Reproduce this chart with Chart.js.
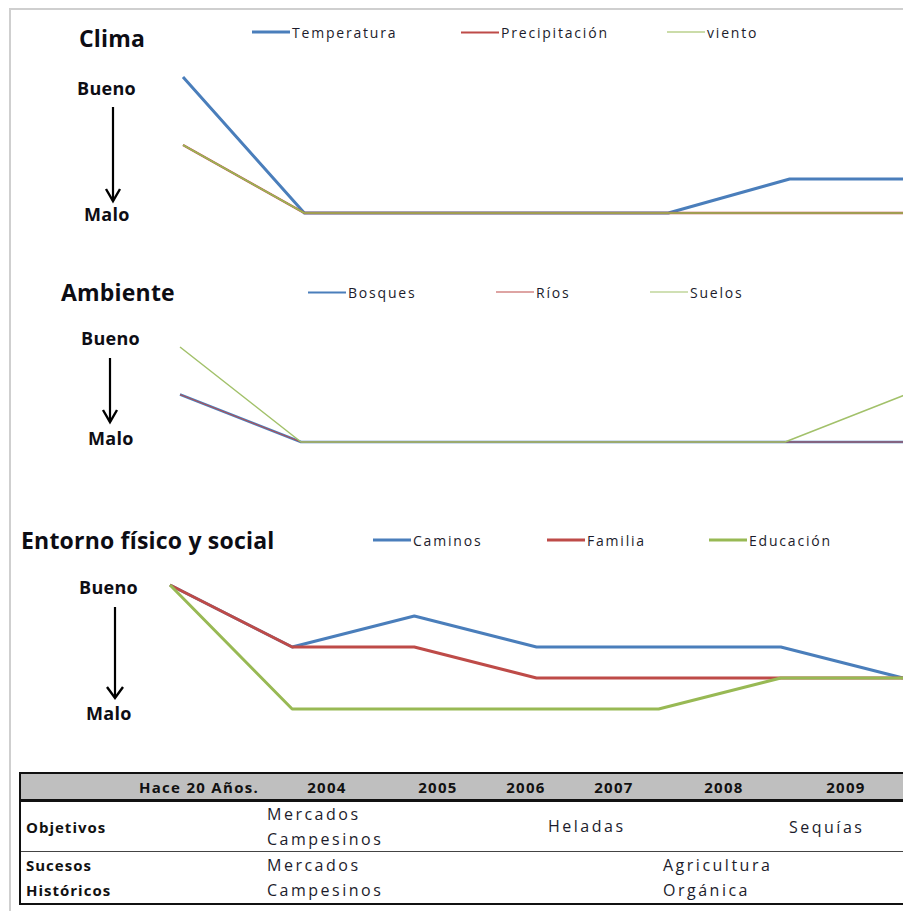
<!DOCTYPE html>
<html lang="es">
<head>
<meta charset="utf-8">
<title>Clima, Ambiente y Entorno</title>
<script src="https://cdn.jsdelivr.net/npm/chart.js@4.4.1/dist/chart.umd.min.js"></script>
<style>
  html, body { margin: 0; padding: 0; background: #fff; }
  body { width: 903px; height: 911px; overflow: hidden; position: relative; font-family: "Open Sans", "Noto Sans", sans-serif; color: #1c1c2c; }
  .frame { position: absolute; left: 9px; top: 8px; width: 1000px; height: 1000px; border-left: 2px solid #cfcfcf; border-top: 2px solid #cfcfcf; }
  .abs { position: absolute; white-space: nowrap; }
  .title { font-weight: 700; font-size: 23px; letter-spacing: 0.2px; color: #0d0d14; transform: translateY(-50%); }
  .side { font-weight: 700; font-size: 18px; letter-spacing: 0.3px; color: #0d0d14; transform: translateY(-50%); }
  .legend { font-size: 14px; letter-spacing: 1.8px; transform: translateY(-50%); display: flex; align-items: center; }
  .legend i { display: inline-block; width: 38px; margin-right: 2px; }
  .chartbox { position: absolute; }
  .table { position: absolute; left: 19px; top: 772px; width: 1000px; height: 129px; border: 2.5px solid #111; border-right: none; }
  .thead { position: absolute; left: 0; top: 0; right: 0; height: 25px; background: #bfbfbf; border-bottom: 3px solid #111; }
  .rowline { position: absolute; left: 0; right: 0; top: 77px; height: 0; border-top: 1.5px solid #444; }
  .th { font-weight: 700; font-size: 15px; letter-spacing: 1.3px; color: #111; transform: translate(-50%, -50%); }
  .rowhead { font-weight: 700; font-size: 15px; letter-spacing: 1px; color: #111; transform: translateY(-50%); }
  .cell { font-size: 16px; letter-spacing: 2.5px; color: #1c1c2c; transform: translateY(-50%); }
</style>
</head>
<body>
<div class="frame"></div>
<div id="stage"></div>
<script>
// Years along the horizontal axis (shared by the three panels and the table header)
const categories = ['Hace 20 Años.', '2004', '2005', '2006', '2007', '2008', '2009'];

// Clima (1 = Malo ... 5 = Bueno)
const climaTemperatura   = [5, 1, 1, 1, 1, 2, 2];
const climaPrecipitacion = [3, 1, 1, 1, 1, 1, 1];
const climaViento        = [3, 1, 1, 1, 1, 1, 1];

// Ambiente (1 = Malo ... 3 = Bueno)
const ambienteBosques = [2, 1, 1, 1, 1, 1, 1];
const ambienteRios    = [2, 1, 1, 1, 1, 1, 1];
const ambienteSuelos  = [3, 1, 1, 1, 1, 1, 2];

// Entorno físico y social (1 = Malo ... 5 = Bueno)
const entornoCaminos   = [5, 3, 4, 3, 3, 3, 2];
const entornoFamilia   = [5, 3, 3, 2, 2, 2, 2];
const entornoEducacion = [5, 1, 1, 1, 1, 2, 2];

// Table rows
const rowTitles = [['Objetivos'], ['Sucesos', 'Históricos']];
const objetivosEntries = [['Mercados', 'Campesinos'], ['Heladas'], ['Sequías']];
const sucesosEntries   = [['Mercados', 'Campesinos'], ['Agricultura', 'Orgánica']];

// ---------- styling / layout ----------
const BLUE = '#4a7ebb', RED = '#be4b48', GREEN = '#98b954';
const PAD = 6;

const panels = [
  {
    title: 'Clima', titlePos: [79, 38],
    bueno: [77, 88], malo: [84, 214], arrow: [113, 107, 201, 189, 7],
    legendY: 32, legendX: [252, 461, 667],
    area: { left: 183, right: 911, top: 77, bottom: 213 }, yMin: 1, yMax: 5,
    series: [
      { label: 'Temperatura',   data: climaTemperatura,   color: BLUE,  width: 3 },
      { label: 'Precipitación', data: climaPrecipitacion, color: RED,   width: 2.5 },
      { label: 'viento',        data: climaViento,        color: GREEN, width: 1.5 }
    ]
  },
  {
    title: 'Ambiente', titlePos: [61, 292],
    bueno: [81, 338], malo: [88, 438], arrow: [110, 358, 422, 410, 7],
    legendY: 292, legendX: [308, 496, 650],
    area: { left: 180, right: 906, top: 347, bottom: 442 }, yMin: 1, yMax: 3,
    series: [
      { label: 'Bosques', data: ambienteBosques, color: BLUE,  width: 2.5 },
      { label: 'Ríos',    data: ambienteRios,    color: RED,   width: 1 },
      { label: 'Suelos',  data: ambienteSuelos,  color: '#a2c16a', width: 1.5 }
    ]
  },
  {
    title: 'Entorno físico y social', titlePos: [21, 540],
    bueno: [79, 587], malo: [86, 713], arrow: [115, 607, 698, 687, 8],
    legendY: 540, legendX: [373, 547, 709],
    area: { left: 170, right: 903, top: 585, bottom: 709 }, yMin: 1, yMax: 5,
    series: [
      { label: 'Caminos',   data: entornoCaminos,   color: BLUE,  width: 3 },
      { label: 'Familia',   data: entornoFamilia,   color: RED,   width: 3 },
      { label: 'Educación', data: entornoEducacion, color: GREEN, width: 3 }
    ]
  }
];

const stage = document.getElementById('stage');

function text(str, x, y, cls) {
  const d = document.createElement('div');
  d.className = 'abs ' + cls;
  d.style.left = x + 'px';
  d.style.top = y + 'px';
  d.textContent = str;
  stage.appendChild(d);
  return d;
}

function arrow(x, y0, y1, wingY, wing) {
  const ns = 'http://www.w3.org/2000/svg';
  const svg = document.createElementNS(ns, 'svg');
  svg.setAttribute('width', 40);
  svg.setAttribute('height', y1 - y0 + 6);
  svg.style.position = 'absolute';
  svg.style.left = (x - 20) + 'px';
  svg.style.top = y0 + 'px';
  const line = document.createElementNS(ns, 'line');
  line.setAttribute('x1', 20); line.setAttribute('x2', 20);
  line.setAttribute('y1', 0); line.setAttribute('y2', y1 - y0);
  line.setAttribute('stroke', '#000'); line.setAttribute('stroke-width', 2.2);
  const head = document.createElementNS(ns, 'polyline');
  const hy = wingY - y0, ty = y1 - y0;
  head.setAttribute('points', `${20 - wing},${hy} 20,${ty} ${20 + wing},${hy}`);
  head.setAttribute('fill', 'none'); head.setAttribute('stroke', '#000');
  head.setAttribute('stroke-width', 2.4);
  svg.appendChild(line); svg.appendChild(head);
  stage.appendChild(svg);
}

panels.forEach(p => {
  text(p.title, p.titlePos[0], p.titlePos[1], 'title');
  text('Bueno', p.bueno[0], p.bueno[1], 'side');
  text('Malo', p.malo[0], p.malo[1], 'side');
  arrow(...p.arrow);

  // legend built from the datasets
  p.series.forEach((s, i) => {
    const item = document.createElement('div');
    item.className = 'abs legend';
    item.style.left = p.legendX[i] + 'px';
    item.style.top = p.legendY + 'px';
    const sw = document.createElement('i');
    sw.style.borderTop = s.width + 'px solid ' + s.color;
    item.appendChild(sw);
    item.appendChild(document.createTextNode(s.label));
    stage.appendChild(item);
  });

  // canvas whose plot area spans the first to last category
  const box = document.createElement('div');
  box.className = 'chartbox';
  const w = p.area.right - p.area.left + 2 * PAD;
  const h = p.area.bottom - p.area.top + 2 * PAD;
  box.style.left = (p.area.left - PAD) + 'px';
  box.style.top = (p.area.top - PAD) + 'px';
  box.style.width = w + 'px';
  box.style.height = h + 'px';
  const cv = document.createElement('canvas');
  cv.width = w; cv.height = h;
  cv.style.width = w + 'px'; cv.style.height = h + 'px';
  box.appendChild(cv);
  stage.appendChild(box);

  const n = p.series.length;
  new Chart(cv, {
    type: 'line',
    data: {
      labels: categories,
      datasets: p.series.map((s, i) => ({
        label: s.label,
        data: s.data,
        borderColor: s.color,
        backgroundColor: s.color,
        borderWidth: s.width,
        pointRadius: 0,
        tension: 0,
        fill: false,
        clip: false,
        borderJoinStyle: 'round',
        // later series are painted over earlier ones
        order: n - i
      }))
    },
    options: {
      responsive: false,
      animation: false,
      devicePixelRatio: 1,
      layout: { padding: PAD },
      plugins: { legend: { display: false }, tooltip: { enabled: false } },
      scales: {
        x: { display: false, offset: false },
        y: { display: false, min: p.yMin, max: p.yMax }
      }
    }
  });
});

// ---------- table of events ----------
const table = document.createElement('div');
table.className = 'table';
table.innerHTML = '<div class="thead"></div><div class="rowline"></div>';
stage.appendChild(table);

const headerX = [199, 327, 438, 526, 614, 724, 846];
categories.forEach((c, i) => text(c, headerX[i], 787, 'th'));

const rowY = [[827], [865, 890]];
rowTitles.forEach((lines, r) => lines.forEach((t, k) => text(t, 26, rowY[r][k], 'rowhead')));

const objX = [267, 548, 789];
const objY = [[814, 839], [826], [827]];
objetivosEntries.forEach((lines, i) => lines.forEach((t, k) => text(t, objX[i], objY[i][k], 'cell')));

const sucX = [267, 663];
sucesosEntries.forEach((lines, i) => lines.forEach((t, k) => text(t, sucX[i], [865, 890][k], 'cell')));
</script>
</body>
</html>
